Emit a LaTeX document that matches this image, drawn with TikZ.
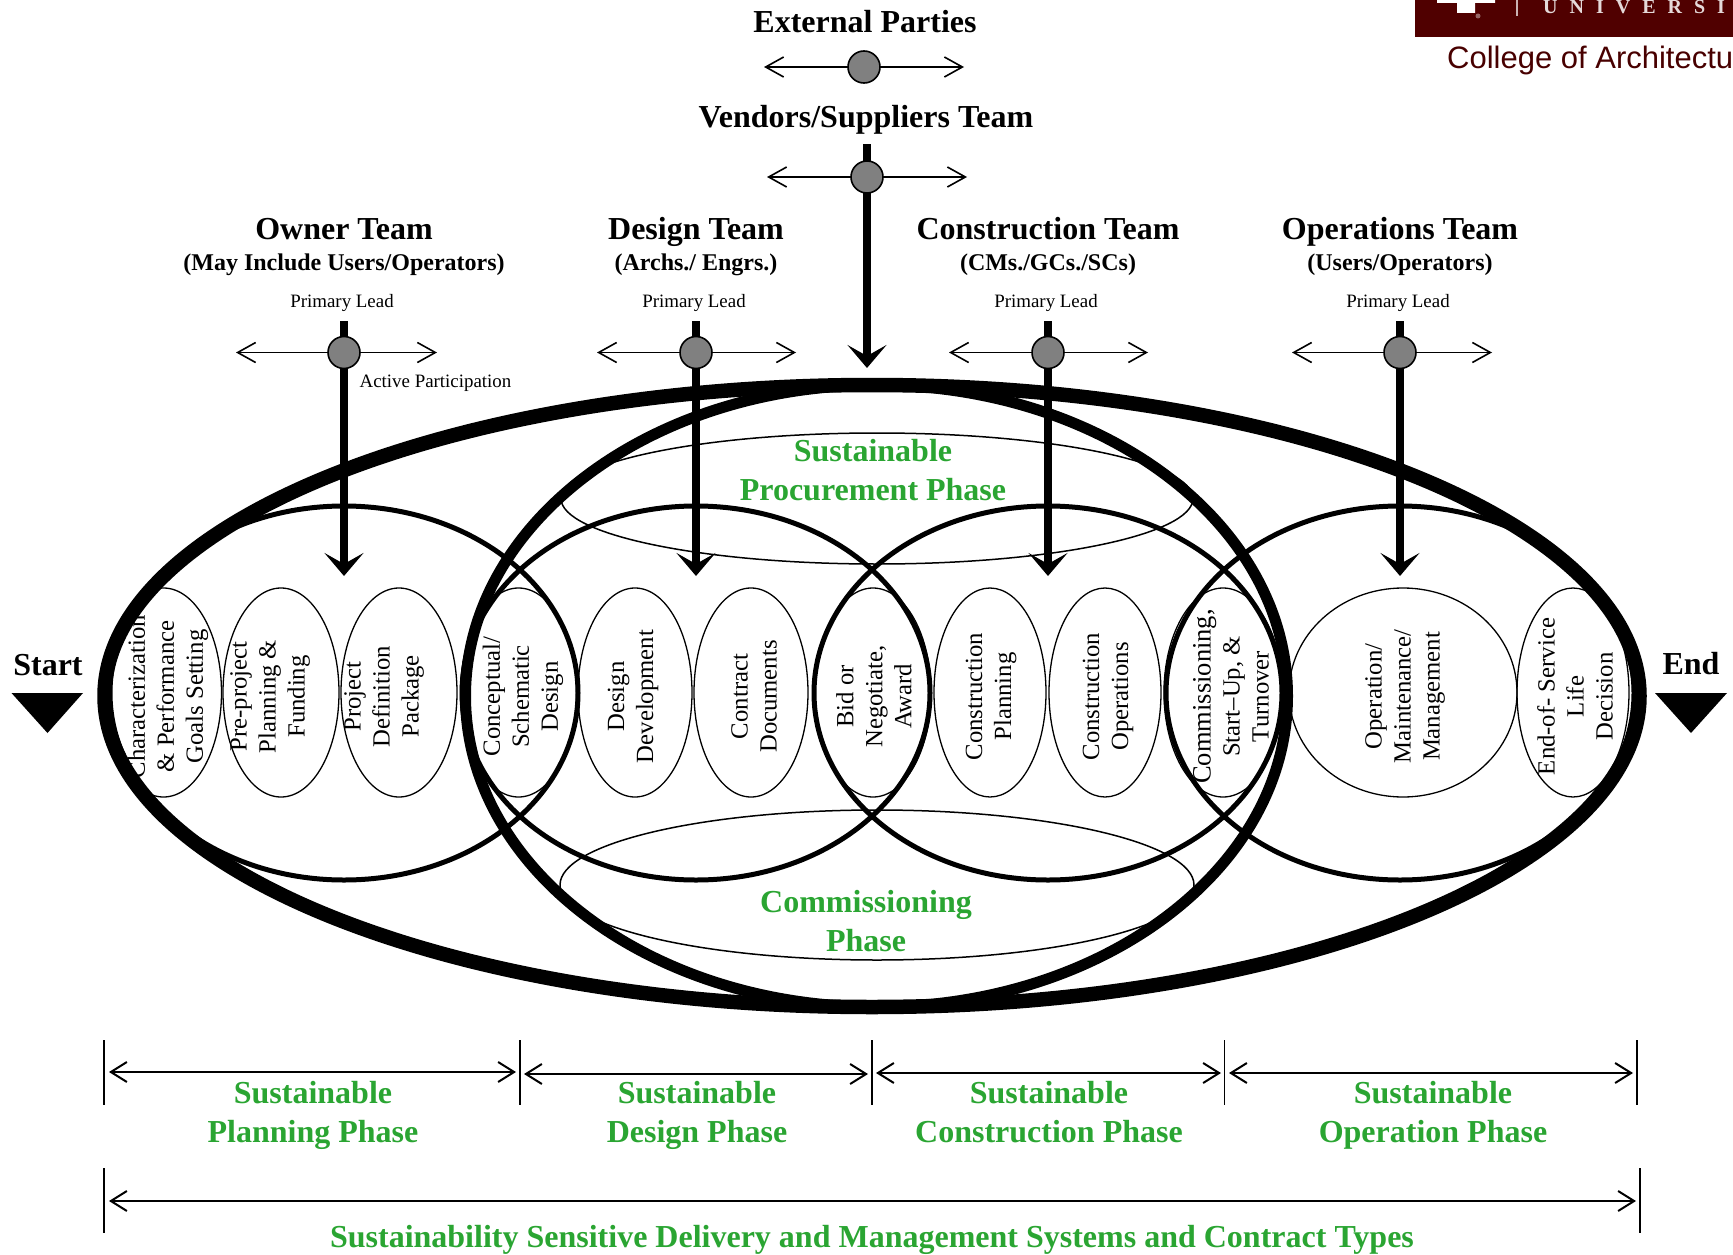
\documentclass[tikz,border=0pt]{standalone}
\usepackage{fontspec}
\setmainfont{Liberation Serif}
\setsansfont{Liberation Sans}
\usetikzlibrary{arrows.meta,shapes.geometric}
\definecolor{phasegreen}{RGB}{42,165,50}
\definecolor{aggiemaroon}{RGB}{80,0,0}
\tikzset{
	teamhead/.style={anchor=base,font=\fontsize{32}{36}\selectfont\bfseries,inner sep=0pt},
	teamsub/.style={anchor=base,font=\fontsize{24}{28}\selectfont\bfseries,inner sep=0pt},
	smalltext/.style={anchor=base,font=\fontsize{18.9}{22}\selectfont,inner sep=0pt},
	phase/.style={font=\fontsize{32}{39}\selectfont\bfseries,text=phasegreen,align=center,inner sep=0pt,text depth=0pt},
	stage/.style={draw,ellipse,line width=1.3pt,inner sep=0pt},
	stagetext/.style={rotate=90,font=\fontsize{24.7}{29}\selectfont,align=center,inner sep=0pt},
	dot/.style={draw,circle,fill=gray,line width=1.6pt,minimum size=32pt,inner sep=0pt},
	barb/.style={line width=1.6pt,{Straight Barb[length=18pt,width=20pt,line width=1.6pt]}-{Straight Barb[length=18pt,width=20pt,line width=1.6pt]}},
	span/.style={line width=2pt,{Straight Barb[length=16pt,width=20pt,line width=2pt]}-{Straight Barb[length=16pt,width=20pt,line width=2pt]}},
	bigarrow/.style={line width=8pt,-{Stealth[length=23pt,width=39pt,inset=11pt]}},
	tick/.style={line width=1.3pt},
}
\begin{document}
\begin{tikzpicture}[x=1pt,y=-1pt,line join=round]
	\useasboundingbox (0,0) rectangle (1733,1255);
	% logo corner
	\fill[aggiemaroon] (1415,0) rectangle (1733,37);
	\fill[white] (1437,0) rectangle (1495,3) (1457,0) rectangle (1475,13);
	\fill[aggiemaroon!60!white] (1478,16) circle (2.5);
	\fill[aggiemaroon!30!white] (1516,0) rectangle (1518,16);
	\node[anchor=base west,inner sep=0pt,text=aggiemaroon!15!white,font=\fontsize{20}{20}\selectfont\bfseries] (univ) at (1543,14) {\spaceskip=12pt U N I V E R S I};
	\node[anchor=base west,inner sep=0pt,text=aggiemaroon!90!black,font=\fontsize{31}{36}\selectfont\sffamily] (college) at (1447,69) {College of Architectu};
	% small stage ellipses
	\foreach \nm/\x/\rx/\tx/\txt in {
		charact/163.5/58/168/{Characterization\\\& Performance\\Goals Setting},
		preproj/281/58/270/{Pre-project\\Planning \&\\Funding},
		projdef/399/58/384/{Project\\Definition\\Package},
		concept/518.5/58/523/{Conceptual/\\Schematic\\Design},
		desdev/635/57/633/{Design\\Development},
		contdoc/751/57/754/{Contract\\Documents},
		bid/873/58/874/{Bid or\\Negotiate,\\Award},
		conplan/990/56/991/{Construction\\Planning},
		conops/1105/56/1108/{Construction\\Operations},
		commis/1223/59/1231/{\fontsize{26.5}{30}\selectfont Commissioning,\\Start--Up, \&\\Turnover},
		opmaint/1403/114/1405/{Operation/\\Maintenance/\\Management},
		endlife/1573/56/1575/{End-of- Service\\Life\\Decision}}
	{
		\node[stage,minimum width=2*\rx,minimum height=209] (\nm) at (\x,692.5) {};
		\node[stagetext] at (\tx,696.5) {\txt};
	}
	% phase ellipses and lens ellipses
	\draw[line width=1.5pt] (877,498.5) ellipse (316 and 65.5);
	\draw[line width=1.5pt] (877,885) ellipse (317 and 75);
	\foreach \x in {344,696,1048,1400}
		\draw[line width=5pt] (\x,693) ellipse (234 and 187);
	\draw[line width=11pt] (876.5,696) ellipse (411 and 311);
	\draw[line width=14.5pt] (872,696) ellipse (767.5 and 311);
	% team headings, cross arrows and lead arrows
	\node[teamhead] (external) at (865,33) {External Parties};
	\node[teamhead] (vendors) at (866,127) {Vendors/Suppliers Team};
	\coordinate (extl) at (764,67); \coordinate (extr) at (964,67);
	\draw[barb] (extl) -- (extr);
	\node[dot] (extdot) at (864,67) {};
	\coordinate (vendl) at (767,177); \coordinate (vendr) at (967,177);
	\coordinate (vendtop) at (867,144); \coordinate (vendtip) at (867,368);
	\draw[barb] (vendl) -- (vendr);
	\draw[bigarrow] (vendtop) -- (vendtip);
	\node[dot] (venddot) at (867,177) {};
	\foreach \nm/\x/\xl/\xr/\head/\sub in {
		owner/344/236/437/{Owner Team}/{(May Include Users/Operators)},
		design/696/597/796/{Design Team}/{(Archs./ Engrs.)},
		constr/1048/949/1148/{Construction Team}/{(CMs./GCs./SCs)},
		oper/1400/1292/1492/{Operations Team}/{(Users/Operators)}}
	{
		\node[teamhead] (\nm head) at (\x,239) {\head};
		\node[teamsub] (\nm sub) at (\x,270) {\sub};
		\node[smalltext] (\nm lead) at (\x-2,307) {Primary Lead};
		\coordinate (\nm left) at (\xl,352.5);
		\coordinate (\nm right) at (\xr,352.5);
		\coordinate (\nm top) at (\x,321);
		\coordinate (\nm tip) at (\x,576);
		\draw[barb] (\nm left) -- (\nm right);
		\draw[bigarrow] (\nm top) -- (\nm tip);
		\node[dot] (\nm dot) at (\x,352.5) {};
	}
	\node[smalltext] (active) at (435.5,387.5) {Active Participation};
	\node[phase] (procure) at (873,470) {Sustainable\\Procurement Phase};
	\node[phase] (commiss) at (866,921) {Commissioning\\Phase};
	% start and end
	\node[teamhead] (start) at (48,675) {Start};
	\node[teamhead] (end) at (1691,674) {End};
	\fill (11.5,693) -- (83,693) -- (47.5,733) -- cycle;
	\fill (1655,693) -- (1727,693) -- (1691,733) -- cycle;
	% phase spans
	\foreach \x in {104,520,872,1224.5,1637}
		\draw[tick] (\x,1040) -- (\x,1105);
	\foreach \nm/\xl/\xr/\ya/\xt/\txt in {
		plan/109/516/1072/313/{Sustainable\\Planning Phase},
		desg/524/868/1074/697/{Sustainable\\Design Phase},
		cons/876/1221/1073/1049/{Sustainable\\Construction Phase},
		oprt/1229/1633/1073/1433/{Sustainable\\Operation Phase}}
	{
		\coordinate (\nm l) at (\xl,\ya); \coordinate (\nm r) at (\xr,\ya);
		\draw[span] (\nm l) -- (\nm r);
		\node[phase] (\nm label) at (\xt,1112) {\txt};
	}
	\draw[tick] (104,1168) -- (104,1233);
	\draw[tick] (1640,1168) -- (1640,1233);
	\coordinate (alll) at (109,1201); \coordinate (allr) at (1636,1201);
	\draw[span] (alll) -- (allr);
	\node[phase,anchor=base] (systems) at (872,1247) {Sustainability Sensitive Delivery and Management Systems and Contract Types};
\end{tikzpicture}
\end{document}
